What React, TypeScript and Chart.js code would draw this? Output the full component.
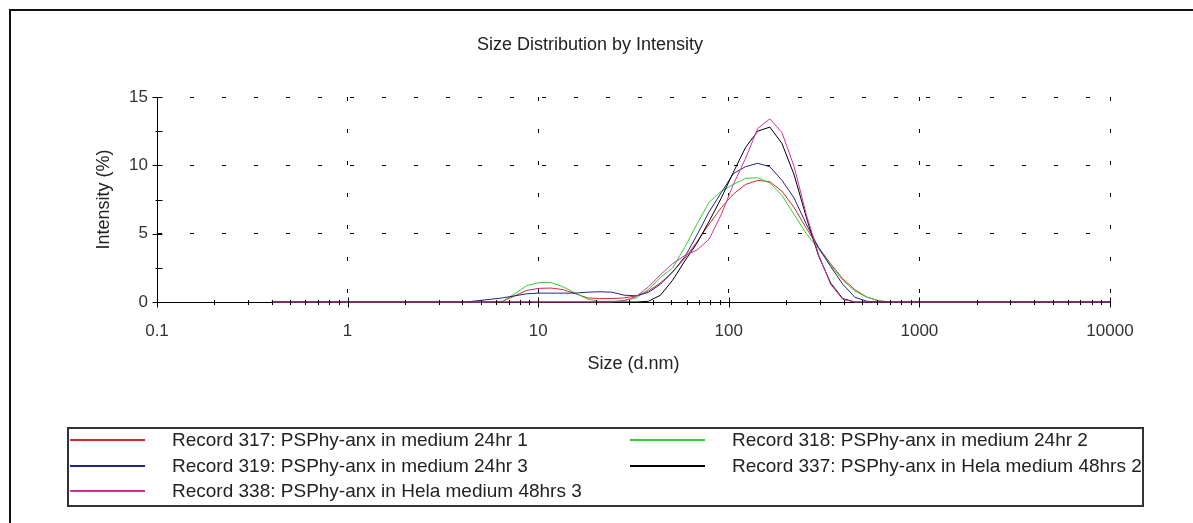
import React, { useEffect, useRef } from 'react';
import { Chart, registerables } from 'chart.js';

Chart.register(...registerables);

// Size bins (d.nm), Malvern 70-bin log scale
const sizeBins = [
  0.4, 0.4632, 0.5365, 0.6213, 0.7195, 0.8332, 0.9649, 1.117, 1.294, 1.499,
  1.736, 2.01, 2.328, 2.696, 3.122, 3.615, 4.187, 4.849, 5.615, 6.503,
  7.531, 8.721, 10.1, 11.7, 13.54, 15.69, 18.17, 21.04, 24.36, 28.21,
  32.67, 37.84, 43.82, 50.75, 58.77, 68.06, 78.82, 91.28, 105.7, 122.4,
  141.8, 164.2, 190.1, 220.2, 255.0, 295.3, 342.0, 396.1, 458.7, 531.2,
  615.1, 712.4, 825.0, 955.4, 1106, 1281, 1484, 1718, 1990, 2305,
  2669, 3091, 3580, 4145, 4801, 5560, 6439, 7456, 8635, 10000,
];

// Intensity (%) per bin
const record317 = [
  0, 0, 0, 0, 0, 0, 0, 0, 0, 0,
  0, 0, 0, 0, 0, 0, 0, 0, 0, 0.05,
  0.45, 0.85, 1.0, 1.02, 0.9, 0.6, 0.3, 0.25, 0.25, 0.3,
  0.45, 0.8, 1.4, 2.2, 3.2, 4.4, 5.7, 6.9, 7.9, 8.6,
  8.9, 8.8, 8.1, 6.9, 5.4, 4.0, 2.8, 1.7, 0.9, 0.35,
  0.08, 0, 0, 0, 0, 0, 0, 0, 0, 0,
  0, 0, 0, 0, 0, 0, 0, 0, 0, 0,
];
const record318 = [
  0, 0, 0, 0, 0, 0, 0, 0, 0, 0,
  0, 0, 0, 0, 0, 0, 0, 0, 0, 0.05,
  0.6, 1.2, 1.42, 1.42, 1.1, 0.65, 0.2, 0.05, 0.05, 0.1,
  0.3, 0.9, 1.8, 2.5, 4.0, 5.7, 7.3, 8.1, 8.6, 9.05,
  9.1, 8.7, 7.8, 6.4, 5.0, 3.9, 2.7, 1.6, 0.8, 0.35,
  0.08, 0, 0, 0, 0, 0, 0, 0, 0, 0,
  0, 0, 0, 0, 0, 0, 0, 0, 0, 0,
];
const record319 = [
  0, 0, 0, 0, 0, 0, 0, 0, 0, 0,
  0, 0, 0, 0, 0, 0, 0, 0.1, 0.2, 0.3,
  0.45, 0.6, 0.65, 0.65, 0.65, 0.65, 0.72, 0.75, 0.72, 0.5,
  0.45, 0.7, 1.3, 2.2, 3.3, 4.9, 6.6, 8.0, 9.4, 9.9,
  10.15, 9.9, 8.9, 7.6, 5.7, 4.0, 2.6, 1.3, 0.35, 0.05,
  0, 0, 0, 0, 0, 0, 0, 0, 0, 0,
  0, 0, 0, 0, 0, 0, 0, 0, 0, 0,
];
const record337 = [
  0, 0, 0, 0, 0, 0, 0, 0, 0, 0,
  0, 0, 0, 0, 0, 0, 0, 0, 0, 0,
  0, 0, 0, 0, 0, 0, 0, 0, 0, 0,
  0, 0.05, 0.5, 1.6, 3.0, 4.3, 5.9, 7.6, 9.5, 11.3,
  12.5, 12.8, 11.6, 9.3, 6.2, 3.4, 1.4, 0.25, 0, 0,
  0, 0, 0, 0, 0, 0, 0, 0, 0, 0,
  0, 0, 0, 0, 0, 0, 0, 0, 0, 0,
];
const record338 = [
  0, 0, 0, 0, 0, 0, 0, 0, 0, 0,
  0, 0, 0, 0, 0, 0, 0, 0, 0, 0,
  0, 0, 0, 0, 0, 0, 0, 0, 0, 0.1,
  0.4, 1.1, 2.0, 2.8, 3.4, 3.8, 4.6, 6.4, 8.6, 10.5,
  12.7, 13.4, 12.4, 9.9, 6.4, 3.5, 1.3, 0.2, 0, 0,
  0, 0, 0, 0, 0, 0, 0, 0, 0, 0,
  0, 0, 0, 0, 0, 0, 0, 0, 0, 0,
];

const seriesNames = [
  'Record 317: PSPhy-anx in medium 24hr 1',
  'Record 318: PSPhy-anx in medium 24hr 2',
  'Record 319: PSPhy-anx in medium 24hr 3',
  'Record 337: PSPhy-anx in Hela medium 48hrs 2',
  'Record 338: PSPhy-anx in Hela medium 48hrs 3',
];
const seriesValues = [record317, record318, record319, record337, record338];
const seriesColors = ['#d42a2a', '#36cc36', '#23238a', '#000000', '#cc3399'];
const seriesDrawOrder = [5, 4, 3, 2, 1];

const xDecades = [0.1, 1, 10, 100, 1000, 10000];
const xTickLabels = ['0.1', '1', '10', '100', '1000', '10000'];
const xMinorMultipliers = [2, 3, 4, 5, 6, 7, 8, 9];
const yTickValues = [0, 2.5, 5, 7.5, 10, 12.5, 15];
const yTickLabels = ['0', '', '5', '', '10', '', '15'];
const yGridValues = [5, 10, 15];

const chartTitle = 'Size Distribution by Intensity';
const xTitle = 'Size (d.nm)';
const yTitle = 'Intensity (%)';

const FONT = '"Liberation Sans", Arial, sans-serif';

const decadeIndex = (v: number) =>
  xDecades.findIndex((d) => Math.abs(v - d) / d < 1e-6);

const axisTicksPlugin = {
  id: 'axisTicks',
  afterDatasetsDraw(chart: any) {
    const { ctx, scales } = chart;
    const xs = scales.x;
    const ys = scales.y;
    const y0 = Math.round(ys.getPixelForValue(0)) + 0.5;
    const x0 = Math.round(xs.getPixelForValue(xDecades[0])) + 0.5;
    ctx.save();
    ctx.strokeStyle = '#000';
    ctx.lineWidth = 1;
    xs.ticks.forEach((t: any) => {
      const px = Math.round(xs.getPixelForValue(t.value)) + 0.5;
      const major = decadeIndex(t.value) >= 0;
      ctx.beginPath();
      ctx.moveTo(px, y0 - (major ? 5 : 2.5));
      ctx.lineTo(px, y0 + (major ? 5 : 2.5));
      ctx.stroke();
    });
    ys.ticks.forEach((t: any) => {
      const py = Math.round(ys.getPixelForValue(t.value)) + 0.5;
      const major = yGridValues.includes(t.value) || t.value === 0;
      ctx.beginPath();
      ctx.moveTo(x0 - (major ? 5 : 2), py);
      ctx.lineTo(x0 + 5, py);
      ctx.stroke();
    });
    ctx.restore();
  },
};

export default function App() {
  const canvasRef = useRef<HTMLCanvasElement | null>(null);

  useEffect(() => {
    if (!canvasRef.current) return;
    const datasets = seriesNames.map((name, i) => ({
      label: name,
      data: sizeBins.map((s, j) => ({ x: s, y: seriesValues[i][j] })),
      borderColor: seriesColors[i],
      backgroundColor: seriesColors[i],
      borderWidth: 1,
      pointRadius: 0,
      tension: 0,
      fill: false,
      clip: false as any,
      order: seriesDrawOrder[i],
    }));

    const chart = new Chart(canvasRef.current, {
      type: 'line',
      data: { datasets },
      plugins: [axisTicksPlugin],
      options: {
        animation: false,
        responsive: false,
        devicePixelRatio: 1,
        layout: { padding: { left: 85, top: 97, right: 83, bottom: 141 } },
        plugins: {
          legend: { display: false },
          title: { display: false },
          tooltip: { enabled: false },
        },
        scales: {
          x: {
            type: 'logarithmic',
            min: xDecades[0],
            max: xDecades[xDecades.length - 1],
            afterFit: (scale: any) => {
              scale.height = 80;
            },
            afterBuildTicks: (scale: any) => {
              const ticks: any[] = [];
              xDecades.forEach((d, i) => {
                ticks.push({ value: d });
                if (i < xDecades.length - 1) {
                  xMinorMultipliers.forEach((m) => ticks.push({ value: d * m }));
                }
              });
              scale.ticks = ticks;
            },
            ticks: {
              autoSkip: false,
              maxRotation: 0,
              minRotation: 0,
              padding: 19,
              color: '#333',
              font: { family: FONT, size: 17 },
              callback: (value: any) => {
                const idx = decadeIndex(Number(value));
                return idx >= 0 ? xTickLabels[idx] : '';
              },
            },
            grid: {
              drawTicks: false,
              lineWidth: 1,
              color: (ctx: any) => {
                const v = ctx.tick ? ctx.tick.value : NaN;
                const idx = decadeIndex(v);
                return idx > 0 ? '#000' : 'rgba(0,0,0,0)';
              },
            },
            border: { display: true, color: '#000', width: 1, dash: [4, 28] },
            title: {
              display: true,
              text: xTitle,
              color: '#222',
              font: { family: FONT, size: 18 },
              padding: { top: 0, bottom: 7 },
            },
          },
          y: {
            type: 'linear',
            min: yTickValues[0],
            max: yTickValues[yTickValues.length - 1],
            afterFit: (scale: any) => {
              scale.width = 72;
            },
            afterBuildTicks: (scale: any) => {
              scale.ticks = yTickValues.map((v) => ({ value: v }));
            },
            ticks: {
              padding: 9,
              color: '#333',
              font: { family: FONT, size: 17 },
              callback: (value: any) => {
                const idx = yTickValues.indexOf(Number(value));
                return idx >= 0 ? yTickLabels[idx] : '';
              },
            },
            grid: {
              drawTicks: false,
              lineWidth: 1,
              color: (ctx: any) => {
                const v = ctx.tick ? ctx.tick.value : NaN;
                return yGridValues.includes(v) ? '#000' : 'rgba(0,0,0,0)';
              },
            },
            border: { display: true, color: '#000', width: 1, dash: [4, 28] },
            title: {
              display: true,
              text: yTitle,
              color: '#222',
              font: { family: FONT, size: 18 },
              padding: { top: 8, bottom: 0 },
            },
          },
        },
      } as any,
    });
    return () => chart.destroy();
  }, []);

  const legendRowTop = 440;
  const legendRowStep = 25.5;
  const legendLineLeft = [70, 630];
  const legendTextLeft = [172, 732];

  return (
    <div
      style={{
        position: 'fixed',
        left: 0,
        top: 0,
        width: 1193,
        height: 523,
        overflow: 'hidden',
        background: '#fff',
        fontFamily: FONT,
      }}
    >
      <div
        style={{
          position: 'absolute',
          left: 9,
          top: 9,
          width: 1400,
          height: 800,
          borderLeft: '2px solid #111',
          borderTop: '2px solid #111',
        }}
      />
      <canvas
        ref={canvasRef}
        width={1193}
        height={523}
        style={{ position: 'absolute', left: 0, top: 0, width: 1193, height: 523 }}
      />
      <div
        style={{
          position: 'absolute',
          left: 0,
          top: 33,
          width: 1180,
          textAlign: 'center',
          fontSize: 18,
          lineHeight: '22px',
          color: '#222',
        }}
      >
        {chartTitle}
      </div>
      <div
        style={{
          position: 'absolute',
          left: 67,
          top: 427,
          width: 1077,
          height: 80,
          border: '2px solid #333',
          boxSizing: 'border-box',
        }}
      />
      {seriesNames.map((name, i) => {
        const col = i % 2;
        const row = Math.floor(i / 2);
        const cy = legendRowTop + row * legendRowStep;
        return (
          <React.Fragment key={name}>
            <div
              style={{
                position: 'absolute',
                left: legendLineLeft[col],
                top: cy - 1,
                width: 75,
                height: 2,
                background: seriesColors[i],
              }}
            />
            <div
              style={{
                position: 'absolute',
                left: legendTextLeft[col],
                top: cy - 11,
                fontSize: 19,
                lineHeight: '22px',
                color: '#222',
                whiteSpace: 'nowrap',
              }}
            >
              {name}
            </div>
          </React.Fragment>
        );
      })}
    </div>
  );
}
